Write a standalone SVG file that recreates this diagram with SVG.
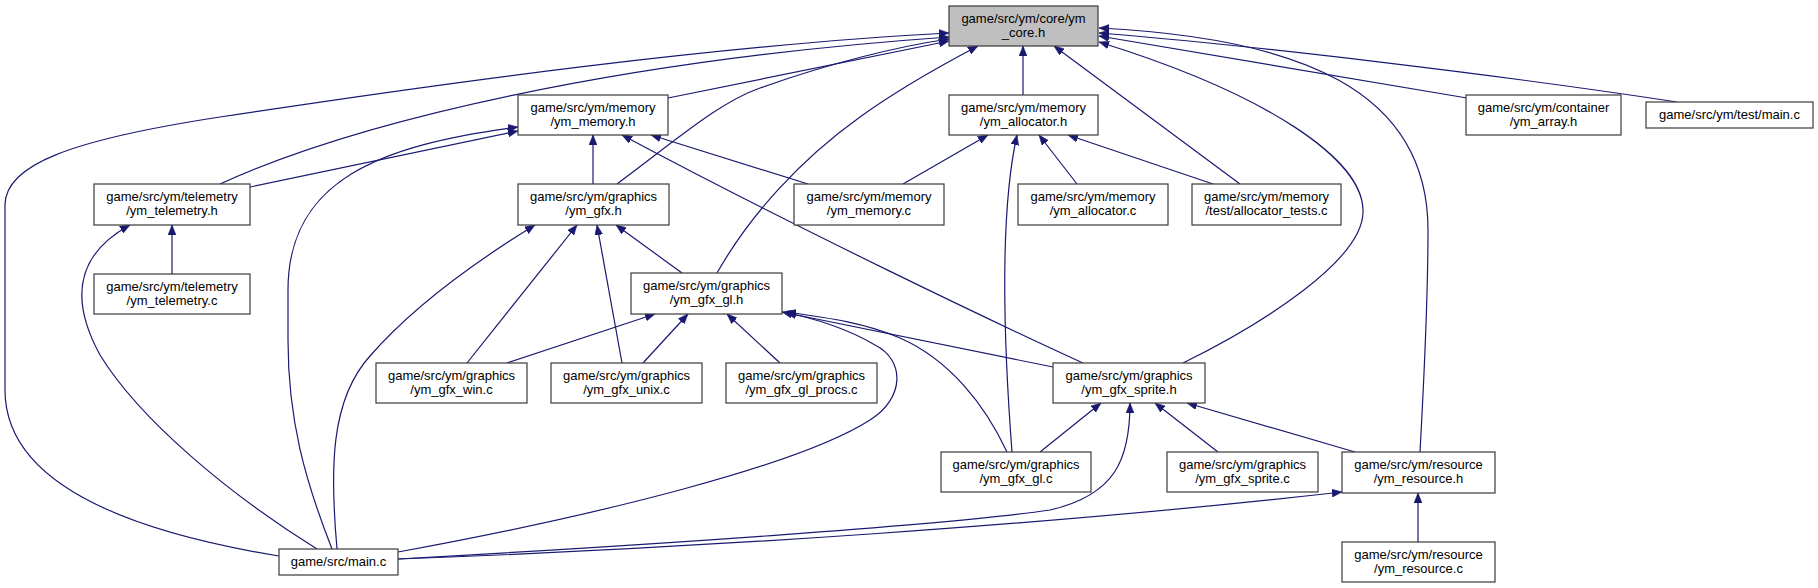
<svg xmlns="http://www.w3.org/2000/svg" width="1818" height="588" viewBox="0 0 1818 588">
<style>
.n rect{fill:#ffffff;stroke:#3a3a3a;stroke-width:1.2}
.n.root rect{fill:#bfbfbf}
.n text{font-family:"Liberation Sans",Arial,Helvetica,sans-serif;font-size:13px;fill:#000;text-anchor:middle}
.e path{fill:none;stroke:#191970;stroke-width:1.2;marker-end:url(#arr)}
</style>
<defs>
<marker id="arr" viewBox="0 0 10 8" refX="10" refY="4" markerWidth="10" markerHeight="8" markerUnits="userSpaceOnUse" orient="auto">
<path d="M0,0 L10,4 L0,8 z" fill="#191970" stroke="#191970" stroke-width="0.5"/>
</marker>
</defs>
<rect x="0" y="0" width="1818" height="588" fill="#ffffff"/>
<g id="edges" class="e">
<path d="M668,98 L949,41"/>
<path d="M220,184 C360,120 620,60 949,37"/>
<path d="M279,556 C120,530 5,480 5,390 L5,205 C5,165 70,140 220,117 C450,82 720,45 949,33"/>
<path d="M617,184 C680,137 720,102 760,88 C830,63 900,46 949,39"/>
<path d="M717,273 C750,215 800,160 860,117 C900,88 940,66 978,46"/>
<path d="M1023,95 L1023,46"/>
<path d="M1240,184 L1054,46"/>
<path d="M1183,363 C1260,325 1365,260 1363,210 C1362,160 1270,95 1099,42"/>
<path d="M1420,452 C1424,380 1428,300 1428,230 C1428,90 1300,38 1099,28"/>
<path d="M1467,98 L1099,36"/>
<path d="M1677,102 C1500,75 1250,45 1099,33"/>
<path d="M250,187 L518,131"/>
<path d="M332,549 C305,480 288,420 288,340 L288,290 C288,180 380,145 518,127"/>
<path d="M593,184 L593,135"/>
<path d="M808,184 L651,135"/>
<path d="M1083,363 C1000,325 800,230 622,135"/>
<path d="M903,184 L988,135"/>
<path d="M1077,184 L1039,135"/>
<path d="M1213,184 L1068,135"/>
<path d="M1012,452 C1005,360 998,220 1017,135"/>
<path d="M172,274 L172,225"/>
<path d="M317,549 C230,495 140,420 100,355 C70,300 75,255 130,225"/>
<path d="M337,549 C330,470 330,400 370,356 C410,310 470,265 535,225"/>
<path d="M467,363 L577,225"/>
<path d="M622,363 L597,225"/>
<path d="M682,273 L616,225"/>
<path d="M507,363 L655,314"/>
<path d="M643,363 L688,314"/>
<path d="M780,363 L727,314"/>
<path d="M1053,367 L782,312"/>
<path d="M1007,452 C985,405 950,360 900,338 C865,323 830,318 786,312"/>
<path d="M398,552 C600,515 800,465 870,420 C905,398 905,360 875,345 C850,330 815,318 786,313"/>
<path d="M1040,452 L1101,403"/>
<path d="M1218,452 L1155,403"/>
<path d="M1355,452 L1187,403"/>
<path d="M398,559 C650,545 950,525 1050,510 C1115,495 1130,460 1130,403"/>
<path d="M398,559 C700,548 1050,525 1342,492"/>
<path d="M1418,542 L1418,493"/>
</g>
<g id="node_core_h" class="n root"><rect x="949" y="6" width="149" height="40"/><text x="1023.5" y="23">game/src/ym/core/ym</text><text x="1023.5" y="37">_core.h</text></g>
<g id="node_memory_h" class="n"><rect x="518" y="95" width="150" height="40"/><text x="593" y="112">game/src/ym/memory</text><text x="593" y="126">/ym_memory.h</text></g>
<g id="node_allocator_h" class="n"><rect x="949" y="95" width="149" height="40"/><text x="1023.5" y="112">game/src/ym/memory</text><text x="1023.5" y="126">/ym_allocator.h</text></g>
<g id="node_array_h" class="n"><rect x="1466" y="95" width="155" height="40"/><text x="1543.5" y="112">game/src/ym/container</text><text x="1543.5" y="126">/ym_array.h</text></g>
<g id="node_test_main_c" class="n"><rect x="1646" y="102" width="167" height="26"/><text x="1729.5" y="119">game/src/ym/test/main.c</text></g>
<g id="node_telemetry_h" class="n"><rect x="94" y="184" width="156" height="41"/><text x="172" y="201">game/src/ym/telemetry</text><text x="172" y="215">/ym_telemetry.h</text></g>
<g id="node_gfx_h" class="n"><rect x="518" y="184" width="151" height="41"/><text x="593.5" y="201">game/src/ym/graphics</text><text x="593.5" y="215">/ym_gfx.h</text></g>
<g id="node_memory_c" class="n"><rect x="794" y="184" width="150" height="41"/><text x="869" y="201">game/src/ym/memory</text><text x="869" y="215">/ym_memory.c</text></g>
<g id="node_allocator_c" class="n"><rect x="1018" y="184" width="150" height="41"/><text x="1093" y="201">game/src/ym/memory</text><text x="1093" y="215">/ym_allocator.c</text></g>
<g id="node_allocator_tests_c" class="n"><rect x="1192" y="184" width="149" height="41"/><text x="1266.5" y="201">game/src/ym/memory</text><text x="1266.5" y="215">/test/allocator_tests.c</text></g>
<g id="node_telemetry_c" class="n"><rect x="94" y="274" width="156" height="40"/><text x="172" y="291">game/src/ym/telemetry</text><text x="172" y="305">/ym_telemetry.c</text></g>
<g id="node_gfx_gl_h" class="n"><rect x="631" y="273" width="151" height="41"/><text x="706.5" y="290">game/src/ym/graphics</text><text x="706.5" y="304">/ym_gfx_gl.h</text></g>
<g id="node_gfx_win_c" class="n"><rect x="376" y="363" width="151" height="40"/><text x="451.5" y="380">game/src/ym/graphics</text><text x="451.5" y="394">/ym_gfx_win.c</text></g>
<g id="node_gfx_unix_c" class="n"><rect x="551" y="363" width="151" height="40"/><text x="626.5" y="380">game/src/ym/graphics</text><text x="626.5" y="394">/ym_gfx_unix.c</text></g>
<g id="node_gfx_gl_procs_c" class="n"><rect x="726" y="363" width="151" height="40"/><text x="801.5" y="380">game/src/ym/graphics</text><text x="801.5" y="394">/ym_gfx_gl_procs.c</text></g>
<g id="node_gfx_sprite_h" class="n"><rect x="1053" y="363" width="152" height="40"/><text x="1129" y="380">game/src/ym/graphics</text><text x="1129" y="394">/ym_gfx_sprite.h</text></g>
<g id="node_gfx_gl_c" class="n"><rect x="941" y="452" width="150" height="40"/><text x="1016" y="469">game/src/ym/graphics</text><text x="1016" y="483">/ym_gfx_gl.c</text></g>
<g id="node_gfx_sprite_c" class="n"><rect x="1167" y="452" width="151" height="40"/><text x="1242.5" y="469">game/src/ym/graphics</text><text x="1242.5" y="483">/ym_gfx_sprite.c</text></g>
<g id="node_resource_h" class="n"><rect x="1342" y="452" width="153" height="41"/><text x="1418.5" y="469">game/src/ym/resource</text><text x="1418.5" y="483">/ym_resource.h</text></g>
<g id="node_resource_c" class="n"><rect x="1342" y="542" width="153" height="40"/><text x="1418.5" y="559">game/src/ym/resource</text><text x="1418.5" y="573">/ym_resource.c</text></g>
<g id="node_main_c" class="n"><rect x="279" y="549" width="119" height="26"/><text x="338.5" y="566">game/src/main.c</text></g>
</svg>
